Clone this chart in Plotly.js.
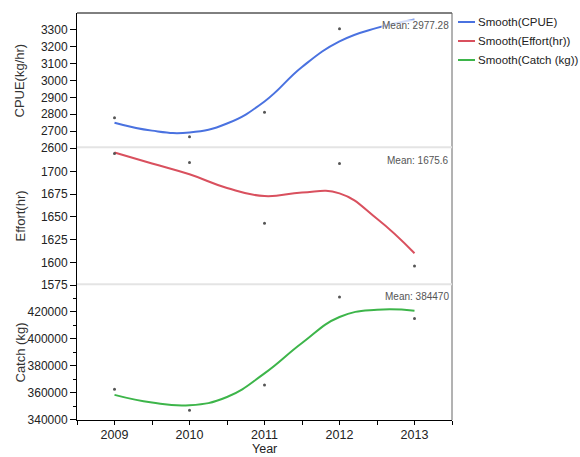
<!DOCTYPE html>
<html>
<head>
<meta charset="utf-8">
<script src="https://cdn.plot.ly/plotly-3.0.1.min.js"></script>
<style>html,body{margin:0;padding:0;background:#fff;}#chart{width:580px;height:457px;}</style>
</head>
<body>
<div id="chart"></div>
<script>
// ---- data ----
const years = [2009, 2010, 2011, 2012, 2013];
const cpue = [2780, 2667, 2812, 3306, 3321];
const effort = [1720, 1710, 1643, 1709, 1596];
const catchKg = [362800, 347200, 366000, 431100, 415250];

// smoothed curves, read at half-year steps
const smoothX = [2009, 2009.5, 2010, 2010.5, 2011, 2011.5, 2012, 2012.5, 2013];
const cpueSmooth = [2750, 2703, 2692, 2745, 2876, 3080, 3232, 3312, 3362];
const effortSmooth = [1721, 1709, 1697, 1682, 1673, 1677, 1676, 1648, 1610];
const catchSmooth = [358600, 352900, 350900, 357000, 374500, 397000, 416300, 421700, 421000];

const seriesNames = ['Smooth(CPUE)', 'Smooth(Effort(hr))', 'Smooth(Catch (kg))'];
const axisTitles = ['CPUE(kg/hr)', 'Effort(hr)', 'Catch (kg)'];
const xTitle = 'Year';
const meanLabels = ['Mean: 2977.28', 'Mean: 1675.6', 'Mean: 384470'];

const cpueTicks = [2600, 2700, 2800, 2900, 3000, 3100, 3200, 3300];
const effortTicks = [1575, 1600, 1625, 1650, 1675, 1700];
const catchTicks = [340000, 360000, 380000, 400000, 420000];
const catchMinor = [350000, 370000, 390000, 410000, 430000];
const yearMinor = [2008.5, 2009.5, 2010.5, 2011.5, 2012.5, 2013.5];

// ---- styling ----
const colors = ['#4a72e0', '#d9505e', '#3db54a'];
const regular = 'Liberation Sans, Arial, sans-serif';
const values = [cpue, effort, catchKg];
const smooths = [cpueSmooth, effortSmooth, catchSmooth];
const yrefs = ['y', 'y2', 'y3'];

const traces = [];
for (let i = 0; i < 3; i++) {
  traces.push({
    x: smoothX, y: smooths[i], yaxis: yrefs[i], type: 'scatter', mode: 'lines',
    line: {color: colors[i], width: 2, shape: 'spline', smoothing: 1.3},
    name: seriesNames[i], showlegend: false, hoverinfo: 'skip'
  });
  traces.push({
    x: years, y: values[i], yaxis: yrefs[i], type: 'scatter', mode: 'markers',
    marker: {color: '#555', size: 3}, showlegend: false, hoverinfo: 'skip'
  });
}

const topDom = [0.6683, 1], midDom = [0.3317, 0.6683], botDom = [0, 0.3317];
const yBase = {
  anchor: 'x', showline: true, linecolor: '#000', linewidth: 1,
  ticks: 'outside', ticklen: 6, tickcolor: '#000', showgrid: false, zeroline: false,
  tickfont: {size: 12, color: '#222', family: regular}
};

const shapes = [
  {type: 'line', xref: 'paper', yref: 'paper', x0: 0, x1: 1, y0: 1, y1: 1, line: {color: '#000', width: 1}},
  {type: 'line', xref: 'paper', yref: 'paper', x0: 1, x1: 1, y0: 0, y1: 1, line: {color: '#666', width: 1}},
  {type: 'line', xref: 'paper', yref: 'paper', x0: 0, x1: 1, y0: topDom[0] + 0.002, y1: topDom[0] + 0.002, line: {color: '#e4e4e4', width: 2}},
  {type: 'line', xref: 'paper', yref: 'paper', x0: 0, x1: 1, y0: midDom[0] + 0.002, y1: midDom[0] + 0.002, line: {color: '#e4e4e4', width: 2}}
];

const annotations = [{
  xref: 'paper', yref: 'paper', x: 0.5, y: 0, xanchor: 'center', yanchor: 'bottom',
  yshift: -37, borderpad: 0, showarrow: false, text: xTitle,
  font: {size: 12.5, color: '#222', family: regular}
}];
const doms = [topDom, midDom, botDom];
const legendY = [0.9779, 0.9312, 0.8845];
for (let i = 0; i < 3; i++) {
  annotations.push({
    xref: 'paper', yref: 'paper', x: 0, y: (doms[i][0] + doms[i][1]) / 2,
    xanchor: 'center', yanchor: 'middle', xshift: -57, textangle: -90, showarrow: false,
    text: axisTitles[i], font: {size: 13, color: '#333', family: regular}
  });
  annotations.push({
    xref: 'paper', yref: yrefs[i] + ' domain', x: 1, y: 1, xanchor: 'right', yanchor: 'middle',
    xshift: -2, yshift: -12, showarrow: false, text: meanLabels[i],
    bgcolor: 'rgba(255,255,255,0.75)', borderpad: 0,
    font: {size: 10, color: '#555', family: regular}
  });
  shapes.push({type: 'line', xref: 'paper', yref: 'paper', x0: 1.016, x1: 1.0613,
    y0: legendY[i], y1: legendY[i], line: {color: colors[i], width: 2}});
  annotations.push({
    xref: 'paper', yref: 'paper', x: 1.0653, y: legendY[i], xanchor: 'left', yanchor: 'middle',
    showarrow: false, text: seriesNames[i], font: {size: 11.5, color: '#222', family: regular}
  });
}

const layout = {
  width: 580, height: 457,
  margin: {l: 77, r: 128, t: 13, b: 37},
  paper_bgcolor: '#fff', plot_bgcolor: '#fff',
  font: {family: regular, color: '#222'},
  showlegend: false,
  xaxis: {
    anchor: 'y3',
    range: [2008.5, 2013.5], tickvals: years, ticktext: years.map(String),
    ticks: 'outside', ticklen: 4, tickcolor: '#000',
    minor: {tickvals: yearMinor, ticks: 'outside', ticklen: 4, tickcolor: '#000'},
    showline: true, linecolor: '#000', linewidth: 1, showgrid: false, zeroline: false,
    ticklabelstandoff: -1,
    tickfont: {size: 12.5, color: '#222'}
  },
  yaxis: Object.assign({}, yBase, {domain: topDom, range: [2600, 3400], tickvals: cpueTicks, ticktext: cpueTicks.map(String)}),
  yaxis2: Object.assign({}, yBase, {domain: midDom, range: [1575, 1726], tickvals: effortTicks, ticktext: effortTicks.map(String)}),
  yaxis3: Object.assign({}, yBase, {domain: botDom, range: [340000, 440000], tickvals: catchTicks, ticktext: catchTicks.map(String),
    minor: {tickvals: catchMinor, ticks: 'outside', ticklen: 3, tickcolor: '#000'}}),
  shapes: shapes,
  annotations: annotations
};

Plotly.newPlot('chart', traces, layout, {displayModeBar: false, staticPlot: true});
</script>
</body>
</html>
